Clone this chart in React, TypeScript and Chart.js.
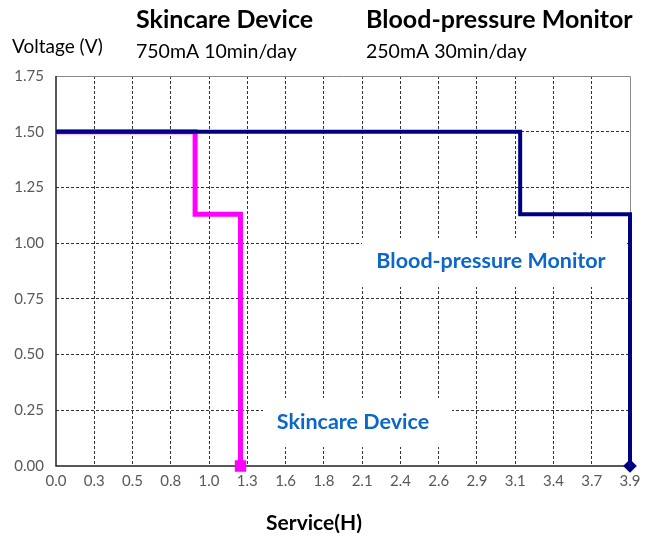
import React, { useEffect, useRef } from "react";
import { Chart, registerables } from "chart.js";

Chart.register(...registerables);

// ---- data ----
const xTickLabels = ["0.0", "0.3", "0.5", "0.8", "1.0", "1.3", "1.6", "1.8", "2.1", "2.4", "2.6", "2.9", "3.1", "3.4", "3.7", "3.9"];
const X_MAX = 3.92;
const Y_MAX = 1.75;
const Y_STEP = 0.25;

// Blood-pressure monitor (250mA 30min/day)
const bloodHours = [0, 3.17, 3.92];
const bloodVolts = [1.5, 1.13, 0];

// Skincare device (750mA 10min/day)
const skinHours = [0, 0.95, 1.26];
const skinVolts = [1.5, 1.13, 0];

const titles = [
  { title: "Skincare Device", sub: "750mA 10min/day" },
  { title: "Blood-pressure Monitor", sub: "250mA 30min/day" },
];
const yAxisTitle = "Voltage (V)";
const xAxisTitle = "Service(H)";
const annotations = ["Blood-pressure Monitor", "Skincare Device"];

const FONT = "Lato, 'Open Sans', sans-serif";

const textPlugin = {
  id: "textPlugin",
  beforeDatasetsDraw(chart: any) {
    const ctx = chart.ctx;
    const a = chart.chartArea;
    ctx.save();
    // annotation boxes
    const boxes = [
      { x0: 362, y0: 238, x1: 627, y1: 287, text: annotations[0], cx: 491, cy: 261 },
      { x0: 263, y0: 398, x1: 452, y1: 447, text: annotations[1], cx: 353, cy: 422 },
    ];
    for (const b of boxes) {
      ctx.fillStyle = "#ffffff";
      ctx.fillRect(b.x0, b.y0, b.x1 - b.x0, b.y1 - b.y0);
      ctx.fillStyle = "#0b67c9";
      ctx.font = `bold 21.5px ${FONT}`;
      ctx.textAlign = "center";
      ctx.textBaseline = "middle";
      ctx.fillText(b.text, b.cx, b.cy);
    }
    // frame
    ctx.strokeStyle = "#8a8a8a";
    ctx.lineWidth = 1;
    ctx.beginPath();
    ctx.moveTo(a.left, a.top + 0.5);
    ctx.lineTo(a.right + 0.5, a.top + 0.5);
    ctx.lineTo(a.right + 0.5, a.bottom);
    ctx.stroke();
    ctx.strokeStyle = "#222222";
    ctx.lineWidth = 1.5;
    ctx.beginPath();
    ctx.moveTo(a.left, a.top);
    ctx.lineTo(a.left, a.bottom);
    ctx.lineTo(a.right + 1, a.bottom);
    ctx.stroke();
    ctx.restore();
  },
  afterDraw(chart: any) {
    const ctx = chart.ctx;
    ctx.save();
    ctx.fillStyle = "#000000";
    ctx.textAlign = "left";
    ctx.textBaseline = "middle";
    ctx.font = `bold 25px ${FONT}`;
    ctx.fillText(titles[0].title, 136, 20);
    ctx.fillText(titles[1].title, 366, 20);
    ctx.font = `19.5px ${FONT}`;
    ctx.fillText(titles[0].sub, 136, 52);
    ctx.fillText(titles[1].sub, 366, 52);
    ctx.font = `19px ${FONT}`;
    ctx.fillText(yAxisTitle, 12, 47);
    ctx.textAlign = "center";
    ctx.font = `bold 21px ${FONT}`;
    ctx.fillText(xAxisTitle, 314, 523);
    ctx.restore();
  },
};

export default function App() {
  const ref = useRef<HTMLCanvasElement | null>(null);
  useEffect(() => {
    if (!ref.current) return;
    const chart = new Chart(ref.current, {
      type: "line",
      data: {
        datasets: [
          {
            label: "Blood-pressure Monitor",
            data: bloodHours.map((h, i) => ({ x: h, y: bloodVolts[i] })),
            borderColor: "#000080",
            backgroundColor: "#000080",
            borderWidth: 4,
            stepped: "before",
            pointRadius: bloodHours.map((_, i) => (i === bloodHours.length - 1 ? 4 : 0)),
            pointStyle: "rectRot",
            clip: false,
          },
          {
            label: "Skincare Device",
            data: skinHours.map((h, i) => ({ x: h, y: skinVolts[i] })),
            borderColor: "#ff00ff",
            backgroundColor: "#ff00ff",
            borderWidth: 5,
            stepped: "before",
            pointRadius: skinHours.map((_, i) => (i === skinHours.length - 1 ? 4.5 : 0)),
            pointStyle: "rect",
            clip: false,
          },
        ],
      },
      options: {
        animation: false,
        responsive: false,
        layout: { padding: { left: 0, right: 21, top: 76, bottom: 0 } },
        plugins: { legend: { display: false }, tooltip: { enabled: false } },
        scales: {
          x: {
            type: "linear",
            min: 0,
            max: X_MAX,
            afterBuildTicks: (scale: any) => {
              scale.ticks = xTickLabels.map((_, i) => ({ value: (i * X_MAX) / (xTickLabels.length - 1) }));
            },
            afterFit: (scale: any) => {
              scale.height = 72;
            },
            ticks: {
              autoSkip: false,
              maxRotation: 0,
              padding: 6,
              color: "#595959",
              font: { family: FONT, size: 15 },
              callback: (_v: any, i: number) => xTickLabels[i],
            },
            grid: {
              drawTicks: false,
              color: (c: any) => (c.index === 0 || c.index === xTickLabels.length - 1 ? "rgba(0,0,0,0)" : "#333333"),
              lineWidth: 1,
            },
            border: { display: false, dash: [3, 2] },
          },
          y: {
            type: "linear",
            min: 0,
            max: Y_MAX,
            afterFit: (scale: any) => {
              scale.width = 56;
            },
            ticks: {
              stepSize: Y_STEP,
              padding: 12,
              color: "#595959",
              font: { family: FONT, size: 15 },
              callback: (v: any) => Number(v).toFixed(2),
            },
            grid: {
              drawTicks: false,
              color: (c: any) => (c.tick && (c.tick.value === 0 || c.tick.value === Y_MAX) ? "rgba(0,0,0,0)" : "#333333"),
              lineWidth: 1,
            },
            border: { display: false, dash: [3, 2] },
          },
        },
      },
      plugins: [textPlugin],
    } as any);
    return () => chart.destroy();
  }, []);
  return (
    <div style={{ position: "absolute", left: 0, top: 0, width: 651, height: 538, background: "#fff" }}>
      <canvas ref={ref} width={651} height={538} style={{ display: "block" }} />
    </div>
  );
}
